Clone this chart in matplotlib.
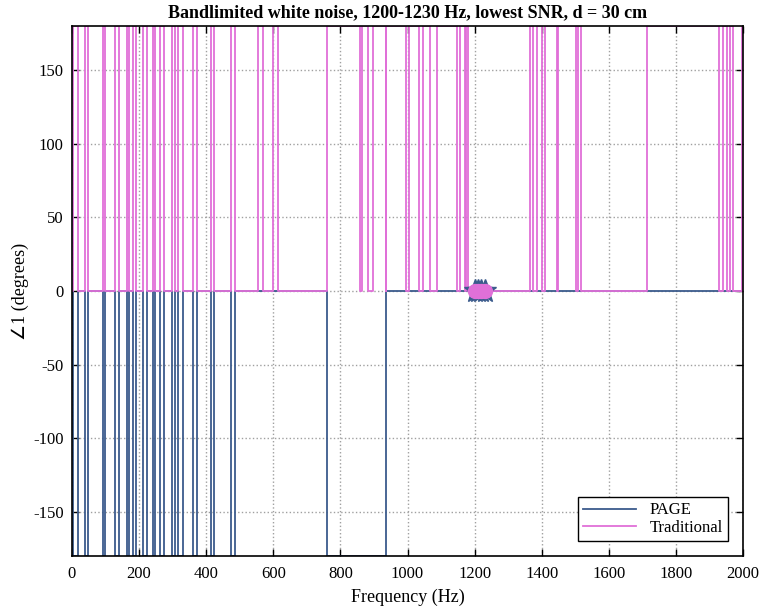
import matplotlib
matplotlib.use("Agg")
import matplotlib.pyplot as plt

# -----------------------------
# Data
# -----------------------------
# PAGE: step function, value holds from each frequency to the next one
page_freq = [0, 4, 19, 39, 49, 91, 98, 128, 141, 163, 171, 181, 191, 213, 224,
             240, 247, 262, 274, 297, 307, 317, 332, 360, 372, 413, 423, 473,
             486, 759, 936, 2000]
page_phase = [0, -180, 0, -180, 0, -180, 0, -180, 0, -180, 0, -180, 0, -180, 0,
              -180, 0, -180, 0, -180, 0, -180, 0, -180, 0, -180, 0, -180,
              0, -180, 0, 0]

# Traditional: step function
trad_freq = [0, 4, 19, 39, 49, 91, 98, 128, 141, 163, 171, 181, 191, 213, 224,
             240, 247, 262, 274, 297, 307, 317, 332, 360, 372, 413, 423, 473,
             486, 555, 568, 600, 615, 759, 858, 863, 883, 896, 936, 937, 995,
             1005, 1034, 1045, 1067, 1087, 1147, 1156, 1171, 1175, 1179, 1365,
             1375, 1387, 1400, 1410, 1447, 1448, 1502, 1509, 1516, 1713, 1929,
             1941, 1951, 1961, 1969, 1996, 2000]
trad_phase = [0, 180, 0, 180, 0, 180, 0, 180, 0, 180, 0, 180, 0, 180, 0,
              180, 0, 180, 0, 180, 0, 180, 0, 180, 0, 180, 0, 180,
              0, 180, 0, 180, 0, 180, 0, 180, 0, 180, 0, 180, 0,
              180, 0, 180, 0, 180, 0, 180, 0, 180, 0, 180,
              0, 180, 0, 180, 0, 180, 0, 180, 0, 180, 0,
              180, 0, 180, 0, 180, 180]

# signal band (1200-1230 Hz) shown with markers
band_freq = [1200, 1210, 1220, 1230]
band_page = [0, 0, 0, 0]
band_trad = [0, 0, 0, 0]

xticks = [0, 200, 400, 600, 800, 1000, 1200, 1400, 1600, 1800, 2000]
yticks = [-150, -100, -50, 0, 50, 100, 150]

PAGE_COLOR = "#3b5b8c"
TRAD_COLOR = "#e070d8"

plt.rcParams["font.family"] = ["Liberation Serif", "DejaVu Sans"]
plt.rcParams["axes.unicode_minus"] = False

fig = plt.figure(figsize=(7.6, 6.11), dpi=100)
ax = fig.add_axes([0.0947, 0.09, 0.883, 0.8674])

ax.step(page_freq, page_phase, where="post", color=PAGE_COLOR, lw=1.3, label="PAGE")
ax.step(trad_freq, trad_phase, where="post", color=TRAD_COLOR, lw=1.3, label="Traditional")

ax.plot(band_freq, band_page, ls="none", marker="*", ms=17, color=PAGE_COLOR)
ax.plot(band_freq, band_trad, ls="none", marker="o", ms=10, color=TRAD_COLOR)

ax.set_xlim(0, 2000)
ax.set_ylim(-180, 180)
ax.set_xticks(xticks)
ax.set_yticks(yticks)
ax.tick_params(direction="in", top=True, right=True, labelsize=12, length=5, width=1)
ax.tick_params(axis="x", pad=7)
ax.tick_params(axis="y", pad=6)
ax.grid(True, linestyle=":", color="#a0a0a0", lw=1)
for s in ax.spines.values():
    s.set_linewidth(1.2)

ax.set_xlabel("Frequency (Hz)", fontsize=13, labelpad=5)
ax.set_ylabel("\u22201 (degrees)", fontsize=13, labelpad=3)
ax.set_title("Bandlimited white noise, 1200-1230 Hz, lowest SNR, d = 30 cm",
             fontsize=13, fontweight="bold", pad=6)

leg = ax.legend(loc="lower right", fontsize=12, fancybox=False, framealpha=1,
                edgecolor="black", borderaxespad=0.9, handlelength=3.2,
                labelspacing=0.1, borderpad=0.3)
leg.get_frame().set_linewidth(1.0)

fig.savefig("out.png", dpi=100)
